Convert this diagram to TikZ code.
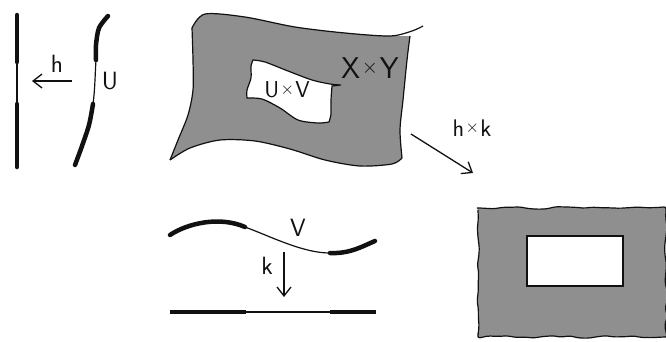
\documentclass[tikz,border=0pt]{standalone}
\usepackage{tikz}
\usetikzlibrary{arrows.meta,decorations.pathmorphing}
\definecolor{sheet}{HTML}{8F8F8F}
\definecolor{ink}{HTML}{111111}
% small raised cross between two letters; #1 is its size
\newcommand{\crossx}[1]{\kern0.06em\raisebox{0.16em}{\fontsize{#1}{#1}\selectfont$\times$}\kern0.06em}

\tikzset{
  thin line/.style={draw=ink, line width=1.2pt},
  fat line/.style={draw=ink, line width=4.5pt, line cap=round},
  hand arrow/.style={draw=ink, line width=1.3pt, -{Straight Barb[length=9pt,width=14pt,line width=1.3pt]}},
  hand label/.style={text=ink, font=\sffamily\fontsize{25}{25}\selectfont, inner sep=0pt},
}

\begin{document}
\begin{tikzpicture}[x=1pt,y=-1pt]
\useasboundingbox (0,0) rectangle (666,341);

% the line X and the arc U above it
\draw[fat line] (17,15) -- (17,62);
\draw[thin line] (17,62) -- (17,104);
\draw[fat line] (17,104) -- (17,167);
\draw[fat line] plot[smooth] coordinates {(108,16) (99,28) (96,45) (96,60)};
\draw[thin line] (96,60) .. controls (95,75) and (95,90) .. (93,104);
\draw[fat line] plot[smooth] coordinates {(93,104) (89,125) (82,146) (75,165)};
\coordinate (hsrc) at (72,81);
\coordinate (htip) at (32,81);
\draw[hand arrow] (hsrc) -- (htip);
\node[hand label] (lblh) at (57,64) {h};
\node[hand label] (lblU) at (110,81) {U};

% the sheet X x Y with the hole U x V
\fill[sheet] plot[smooth] coordinates {(192,28) (205,14) (245,17) (295,27) (345,33) (390,36) (410,36)}
  -- plot[smooth] coordinates {(410,36) (407,60) (403,100) (400,130) (402,158)}
  -- plot[smooth] coordinates {(402,158) (392,164) (360,166) (325,160) (290,149) (255,141) (220,140) (190,148) (170,160)}
  -- plot[smooth] coordinates {(170,160) (178,140) (188,115) (193,90) (193,60) (192,28)} -- cycle;
\draw[thin line] plot[smooth] coordinates {(192,28) (205,14) (245,17) (295,27) (345,33) (390,36) (412,31) (423,26)};
\draw[thin line] plot[smooth] coordinates {(410,36) (407,60) (403,100) (400,130) (402,158)};
\draw[thin line] plot[smooth] coordinates {(402,158) (392,164) (360,166) (325,160) (290,149) (255,141) (220,140) (190,148) (170,160)};
\draw[thin line] plot[smooth] coordinates {(170,160) (178,140) (188,115) (193,90) (193,60) (192,28)};
\filldraw[thin line, fill=white] plot[smooth] coordinates {(253,60) (265,62) (288,71) (312,80) (330,84) (341,85)}
  -- (332,86) -- plot[smooth] coordinates {(332,86) (331,100) (331,114) (329,122)}
  -- plot[smooth] coordinates {(329,122) (318,123) (298,120) (280,108) (262,99) (247,98)}
  -- plot[smooth] coordinates {(247,98) (247,90) (251,78) (251,66) (253,60)} -- cycle;
\node[hand label, font=\sffamily\fontsize{30}{30}\selectfont] (lblXY) at (370,68) {X\crossx{20}Y};
\node[hand label, font=\sffamily\fontsize{23}{23}\selectfont] (lblUV) at (287,90) {U\crossx{16}V};

% the map h x k
\coordinate (hksrc) at (411,134);
\coordinate (hktip) at (473,173);
\draw[hand arrow] (hksrc) -- (hktip);
\node[hand label, font=\sffamily\fontsize{24}{24}\selectfont] (lblhk) at (472,128) {h\crossx{16}k};

% the curve V over the line Y
\draw[fat line] (170,235) .. controls (188,223) and (220,216) .. (245,227);
\draw[thin line] (245,227) .. controls (272,237) and (303,253) .. (330,253);
\draw[fat line] (330,253) .. controls (350,254) and (363,246) .. (375,241);
\draw[fat line, line cap=butt] (170,312) -- (246,312);
\draw[thin line] (246,312) -- (330,312);
\draw[fat line, line cap=butt] (330,312) -- (376,312);
\coordinate (ksrc) at (284,252);
\coordinate (ktip) at (284,297);
\draw[hand arrow] (ksrc) -- (ktip);
\node[hand label] (lblV) at (298,228) {V};
\node[hand label] (lblk) at (267,266) {k};

% the image: a box with a rectangular hole
\pgfmathsetseed{7}
\filldraw[thin line, fill=sheet, decorate, decoration={random steps, segment length=9pt, amplitude=1.3pt}, rounded corners=2pt]
  (478,208) rectangle (666,337);
\filldraw[thin line, fill=white] (527,236) rectangle (623,286);
\end{tikzpicture}
\end{document}
